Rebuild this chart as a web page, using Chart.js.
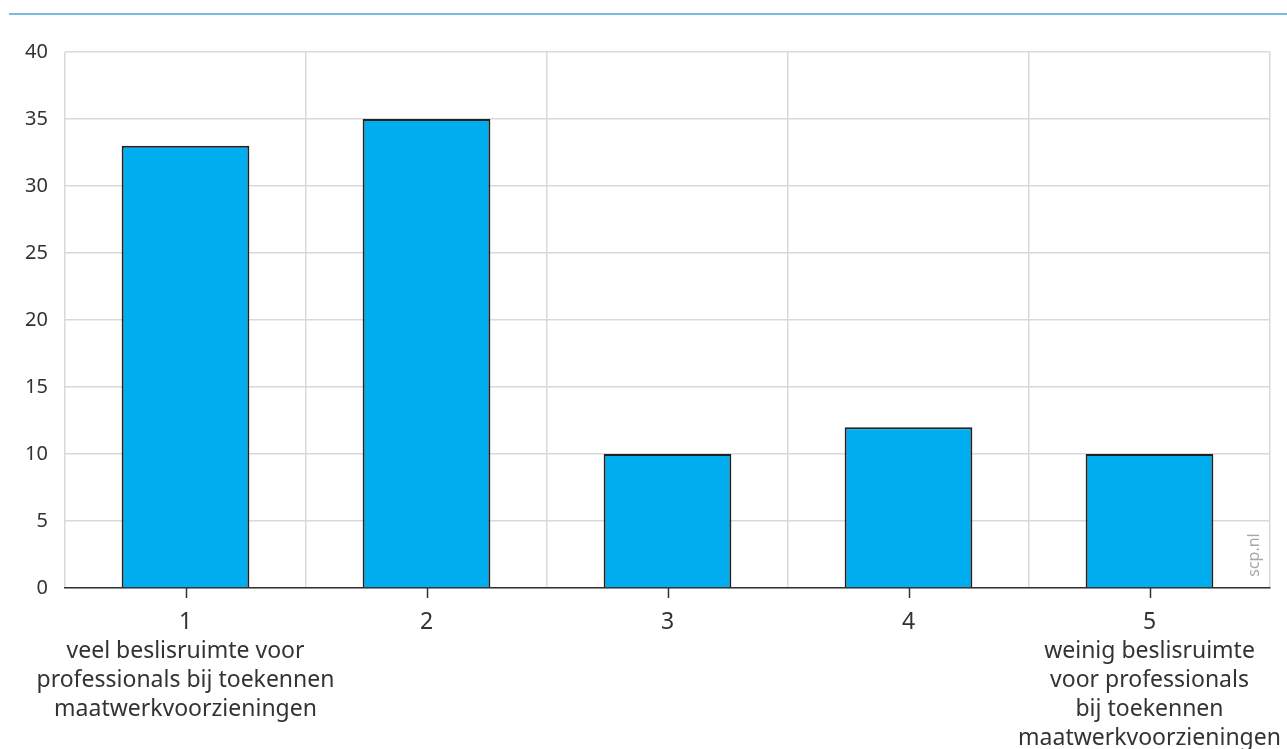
<!DOCTYPE html>
<html>
<head>
<meta charset="utf-8">
<script src="https://cdn.jsdelivr.net/npm/chart.js@4/dist/chart.umd.min.js"></script>
<style>
  html, body { margin: 0; padding: 0; background: #fff; }
  #wrap { width: 1287px; height: 749px; position: relative; }
</style>
</head>
<body>
<div id="wrap"><canvas id="chart"></canvas></div>
<script>
// categorieën en waarden (procent)
const categorieen = [
  ["1", "veel beslisruimte voor", "professionals bij toekennen", "maatwerkvoorzieningen"],
  ["2"],
  ["3"],
  ["4"],
  ["5", "weinig beslisruimte", "voor professionals", "bij toekennen", "maatwerkvoorzieningen"]
];
const waarden = [33, 35, 10, 12, 10];
const yMin = 0, yMax = 40, yStap = 5;

const lettertype = "'Noto Sans', 'Open Sans', sans-serif";

// extra tekenwerk: blauwe lijn bovenaan, tickstreepjes, scp.nl
const extras = {
  id: 'extras',
  afterDraw(chart) {
    const ctx = chart.ctx;
    const area = chart.chartArea;
    const x = chart.scales.x;
    ctx.save();
    // lijn bovenaan
    ctx.strokeStyle = '#4ea6da';
    ctx.lineWidth = 1.5;
    ctx.beginPath();
    ctx.moveTo(9, 14);
    ctx.lineTo(1287, 14);
    ctx.stroke();
    // tickstreepjes onder de as
    ctx.strokeStyle = '#333';
    ctx.lineWidth = 1.5;
    for (let i = 0; i < categorieen.length; i++) {
      const px = Math.round(x.getPixelForValue(i)) + 0.5;
      ctx.beginPath();
      ctx.moveTo(px, area.bottom);
      ctx.lineTo(px, area.bottom + 10);
      ctx.stroke();
    }
    // bron
    ctx.translate(area.right - 16, area.bottom - 33);
    ctx.rotate(-Math.PI / 2);
    ctx.fillStyle = '#a8a8a8';
    ctx.font = "16px " + lettertype;
    ctx.textAlign = 'center';
    ctx.textBaseline = 'middle';
    ctx.fillText('scp.nl', 0, 0);
    ctx.restore();
  }
};

new Chart(document.getElementById('chart'), {
  type: 'bar',
  data: {
    labels: categorieen,
    datasets: [{
      data: waarden,
      backgroundColor: '#00adee',
      borderColor: '#222',
      borderWidth: 2,
      barPercentage: 0.53,
      categoryPercentage: 1
    }]
  },
  options: {
    responsive: true,
    maintainAspectRatio: false,
    animation: false,
    layout: { padding: { top: 52, right: 17, left: 0, bottom: 0 } },
    plugins: { legend: { display: false }, tooltip: { enabled: false } },
    scales: {
      x: {
        grid: { color: '#d9d9d9', lineWidth: 1.5, offset: true, drawTicks: false },
        border: { color: '#333', width: 1.5 },
        ticks: {
          color: '#333', padding: 20, maxRotation: 0, autoSkip: false,
          font: { family: lettertype, size: 23, lineHeight: '29px' }
        },
        afterFit(axis) {
          axis.height = 161;
          axis.paddingLeft = 0;
          axis.paddingRight = 0;
        }
      },
      y: {
        min: yMin, max: yMax,
        grid: { color: '#d9d9d9', lineWidth: 1.5, drawTicks: false },
        border: { display: false },
        ticks: {
          stepSize: yStap, color: '#333', padding: 17,
          font: { family: lettertype, size: 20 }
        },
        afterFit(axis) { axis.width = 65; }
      }
    }
  },
  plugins: [extras]
});
</script>
</body>
</html>
